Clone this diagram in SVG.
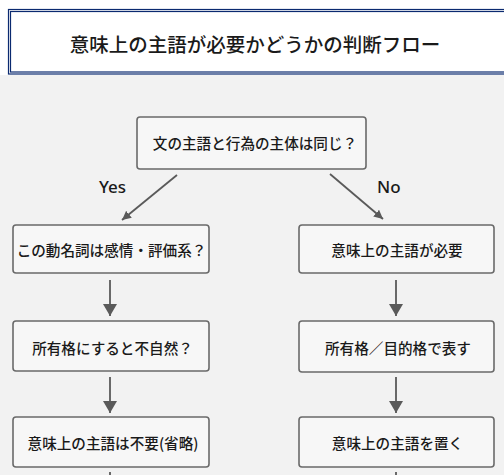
<svg xmlns="http://www.w3.org/2000/svg" width="504" height="475" viewBox="0 0 504 475">
<defs>
<style>
text{font-family:"Noto Sans CJK JP","Noto Sans",sans-serif;fill:#1a1a1a;text-anchor:middle;dominant-baseline:central;font-weight:500}
.box{fill:#f7f7f7;stroke:#6a6a6a;stroke-width:1.6}
.t{font-size:14.6px}
.lbl{font-family:"Noto Sans","DejaVu Sans",sans-serif;font-size:17px;text-anchor:start}
.c{stroke:#5a5a5a;stroke-width:1.8;fill:none}
</style>
<marker id="ah" viewBox="0 0 10 10" refX="10" refY="5" markerWidth="9" markerHeight="9" markerUnits="userSpaceOnUse" orient="auto">
<path d="M0,0 L10,5 L0,10 z" fill="#5a5a5a"/>
</marker>
<marker id="ahv" viewBox="0 0 10 10" refX="10" refY="5" markerWidth="12" markerHeight="14" markerUnits="userSpaceOnUse" orient="auto" preserveAspectRatio="none">
<path d="M0,0 L10,5 L0,10 z" fill="#5a5a5a"/>
</marker>
</defs>
<rect x="0" y="0" width="504" height="475" fill="#f2f2f2"/>
<g id="header">
<rect x="0" y="0" width="504" height="75" fill="#ffffff"/>
<rect x="8.5" y="9.5" width="520" height="64.5" fill="none" stroke="#0b2a70" stroke-width="1.2"/>
<rect x="10.5" y="11.5" width="520" height="60.5" fill="none" stroke="#0b2a70" stroke-width="1.2"/>
<text x="255" y="43.5" style="font-size:19.5px">意味上の主語が必要かどうかの判断フロー</text>
</g>
<g id="connectors">
<line class="c" x1="177" y1="175" x2="122" y2="220" marker-end="url(#ah)"/>
<line class="c" x1="330" y1="174" x2="383" y2="219" marker-end="url(#ah)"/>
<line class="c" x1="110" y1="280" x2="110" y2="316" marker-end="url(#ahv)"/>
<line class="c" x1="110" y1="377" x2="110" y2="413" marker-end="url(#ahv)"/>
<line class="c" x1="396" y1="280" x2="396" y2="316" marker-end="url(#ahv)"/>
<line class="c" x1="396" y1="377" x2="396" y2="413" marker-end="url(#ahv)"/>
<line class="c" x1="110" y1="472" x2="110" y2="480"/>
<line class="c" x1="396" y1="472" x2="396" y2="480"/>
<text class="lbl" x="99" y="186">Yes</text>
<text class="lbl" x="377" y="186">No</text>
</g>
<g id="q1">
<rect class="box" x="137" y="117" width="229" height="52" rx="3"/>
<text class="t" x="255" y="142">文の主語と行為の主体は同じ？</text>
</g>
<g id="l1">
<rect class="box" x="13" y="225" width="196" height="48" rx="3"/>
<text class="t" x="111.5" y="249">この動名詞は感情・評価系？</text>
</g>
<g id="l2">
<rect class="box" x="13" y="321" width="196" height="50" rx="3"/>
<text class="t" x="112.5" y="347">所有格にすると不自然？</text>
</g>
<g id="l3">
<rect class="box" x="13" y="417" width="196" height="50" rx="3"/>
<text class="t" x="113" y="442">意味上の主語は不要(省略)</text>
</g>
<g id="r1">
<rect class="box" x="299" y="225" width="195" height="48" rx="3"/>
<text class="t" x="397" y="249">意味上の主語が必要</text>
</g>
<g id="r2">
<rect class="box" x="299" y="321" width="195" height="51" rx="3"/>
<text class="t" x="398" y="347">所有格／目的格で表す</text>
</g>
<g id="r3">
<rect class="box" x="299" y="417" width="195" height="50" rx="3"/>
<text class="t" x="397.5" y="442">意味上の主語を置く</text>
</g>
</svg>
